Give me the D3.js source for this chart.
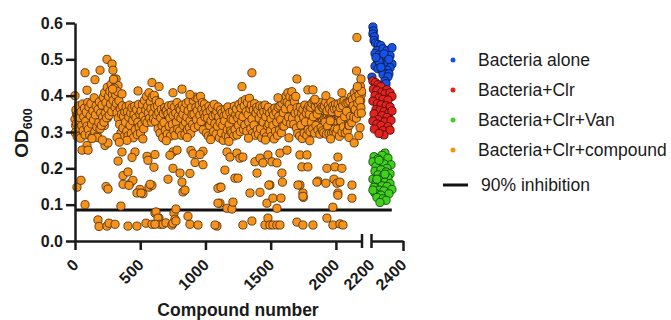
<!DOCTYPE html>
<html>
<head>
<meta charset="utf-8">
<script src="https://cdn.jsdelivr.net/npm/d3@7"></script>
<style>
  body { margin: 0; background: #fff; }
  svg { display: block; font-family: "Liberation Sans", Arial, sans-serif; }
  .axis path, .axis line { stroke: #1a1a1a; stroke-width: 2.5; }
  .axis text { font-weight: bold; font-size: 16px; fill: #1a1a1a; }
</style>
</head>
<body>
<svg id="chart"></svg>
<script>
// OD600 x1000 of compounds 0, 5, 10, ... (bandOD) and 2, 7, 12, ... (bandOD2)
const bandStep = 5;
const bandOD = [
  335,318,352,301,344,327,362,309,338,295,347,322,356,314,331,368,305,341,326,349,
  338,312,359,327,303,346,333,371,318,341,296,355,329,364,311,343,322,376,334,351,
  347,326,372,341,385,318,362,395,351,376,339,408,366,392,357,421,374,398,362,436,
  389,412,371,446,395,362,428,383,347,402,336,371,318,352,329,344,307,361,324,338,
  312,347,329,355,301,336,321,358,314,342,297,333,351,318,364,325,339,309,346,328,
  336,319,352,341,327,363,348,374,339,358,382,346,367,391,354,372,347,386,361,339,
  374,352,395,363,341,382,357,326,369,344,318,351,332,306,345,321,337,298,329,343,
  315,338,326,352,309,341,323,347,336,301,329,356,318,344,331,363,312,339,325,348,
  334,317,346,328,359,312,341,324,353,337,306,345,329,361,318,336,352,323,347,339,
  358,331,366,347,374,339,355,382,344,369,351,336,372,348,327,361,343,318,354,332,
  339,321,348,312,335,357,326,343,304,331,349,318,336,327,352,309,341,324,333,346,
  317,332,305,341,323,296,334,315,346,308,327,339,301,322,344,313,330,298,337,319,
  326,341,311,334,352,319,338,327,347,306,335,356,321,343,331,362,314,349,338,357,
  342,366,331,354,373,339,358,326,347,362,318,339,351,327,344,309,336,322,341,314,
  333,318,347,325,339,304,331,352,316,337,323,345,308,329,341,319,334,297,326,342,
  312,329,304,337,318,296,325,341,309,331,317,346,322,338,313,349,327,356,334,362,
  344,371,352,338,379,361,346,387,368,353,392,374,358,381,349,366,337,372,355,329,
  348,321,339,312,336,327,303,334,319,345,311,328,341,306,333,322,347,315,338,326,
  341,318,353,329,346,362,335,351,324,357,339,368,332,349,316,343,358,327,351,337,
  344,321,338,356,312,341,329,347,318,335,352,309,338,324,346,331,317,343,328,351,
  336,319,348,327,342,311,339,356,324,345,333,361,318,347,338,354,326,362,341,349,
  357,336,364,349,371,342,359,378,351,366,384,357,372,391,365,379,398,372,386,403
];
const bandOD2 = [
  298,361,324,287,349,372,311,339,283,356,318,377,304,342,365,292,329,354,316,381,
  307,369,291,345,378,322,286,358,333,394,301,347,372,314,289,362,326,383,309,352,
  318,374,341,396,327,408,352,381,339,423,364,398,346,412,377,431,356,403,387,445,
  421,368,402,379,353,411,338,386,321,364,297,349,372,311,343,288,356,327,369,302,
  356,289,341,374,318,352,296,367,331,284,348,371,306,339,362,293,327,376,314,349,
  297,358,321,376,344,309,387,332,361,398,326,371,352,408,338,383,364,327,396,351,
  336,401,368,329,386,347,372,309,354,381,297,339,362,318,284,351,326,367,305,357,
  361,294,349,372,316,338,289,356,374,321,346,303,369,291,352,327,381,308,343,366,
  303,361,338,291,374,349,318,365,293,327,379,341,306,358,384,312,331,296,367,348,
  321,387,349,312,396,368,334,359,392,317,374,346,398,329,363,381,306,352,377,341,
  364,297,352,338,289,371,318,359,331,286,367,344,301,376,323,348,294,357,316,369,
  341,284,326,361,298,352,318,277,344,331,362,291,348,306,369,287,321,354,303,336,
  298,357,334,289,371,307,348,363,292,339,318,376,347,301,366,329,384,342,307,372,
  319,389,356,302,381,348,327,393,364,309,374,336,297,361,319,378,291,352,368,306,
  361,294,338,372,309,351,284,369,327,356,298,374,342,287,359,316,368,322,351,303,
  336,288,359,318,347,281,366,302,354,327,291,368,343,306,372,334,298,379,317,353,
  316,387,364,399,329,382,408,341,376,397,323,364,411,338,392,321,384,352,398,311,
  367,296,354,337,289,368,319,351,282,362,341,297,374,328,352,291,364,306,371,349,
  301,368,327,379,309,342,386,297,371,318,383,349,306,374,361,294,381,312,369,303,
  366,298,371,327,382,294,358,316,373,296,364,331,383,297,356,372,301,364,308,377,
  297,364,308,376,353,288,367,331,382,299,372,314,386,342,297,379,357,303,381,318,
  318,384,343,397,326,389,372,341,408,362,396,338,417,379,351,402,386,426,367,412
];

// compounds off the main band: [compound number, OD600]
const outliers = [
  [0,.400],[77,.463],[92,.415],[153,.444],[192,.470],[245,.500],[284,.487],[291,.470],[295,.445],[288,.418],
  [360,.405],[483,.413],[590,.436],[644,.425],[751,.408],[820,.418],[881,.403],[1280,.425],[1356,.463],[1556,.394],
  [1701,.446],[1785,.416],[1824,.416],[1839,.390],[1923,.400],[2046,.408],[2161,.560],[2158,.468],[2192,.446],[2165,.425],
  [92,.263],[169,.285],[230,.263],[253,.270],[322,.285],[360,.245],[398,.277],[460,.245],[552,.233],[613,.238],
  [751,.245],[782,.250],[889,.249],[981,.247],[54,.250],[100,.250],[437,.230],[559,.222],[605,.203],[728,.236],
  [904,.240],[920,.216],[958,.238],[981,.210],[1165,.245],[1188,.231],[1241,.242],[1264,.228],[1287,.231],[1379,.218],
  [1418,.228],[1441,.215],[1479,.237],[1510,.218],[1548,.215],[1571,.242],[1625,.250],[1724,.237],[1739,.204],[1778,.237],
  [1785,.204],[1931,.200],[1992,.204],[2015,.231],[2046,.200],[1149,.195],[1226,.173],[1249,.173],[1111,.148],[1341,.132],
  [1418,.134],[1395,.187],[1586,.187],[1494,.154],[1590,.162],[1724,.154],[1747,.132],[1750,.120],[1862,.165],[1923,.159],
  [1985,.170],[2008,.159],[2031,.162],[2123,.154],[2015,.132],[2123,.118],[1111,.104],[1165,.090],[1203,.088],[1211,.107],
  [1471,.104],[1517,.118],[1579,.118],[1548,.090],[1977,.093],[15,.148],[46,.167],[77,.100],[238,.150],[253,.143],
  [352,.096],[330,.220],[368,.180],[406,.190],[421,.158],[444,.167],[567,.148],[498,.142],[521,.130],[590,.153],
  [613,.077],[644,.063],[713,.170],[751,.200],[759,.077],[774,.088],[805,.187],[820,.162],[828,.135],[843,.140],
  [881,.186],[1096,.104],[1096,.145],[368,.156],[414,.153],[475,.132],[506,.132],[575,.156],[621,.080],[636,.063],
  [766,.060],[866,.068],[1119,.148],[1486,.154],[1709,.154],[1854,.162],[2015,.126],[1747,.123],
  [176,.058],[184,.040],[245,.041],[261,.049],[307,.046],[406,.041],[475,.041],[544,.049],[590,.046],[651,.046],
  [674,.046],[697,.050],[743,.044],[751,.049],[774,.055],[881,.046],[943,.044],[1088,.041],[1073,.044],[1287,.044],
  [1356,.055],[1456,.044],[1479,.063],[1494,.044],[1517,.044],[1548,.044],[1571,.044],[1701,.052],[1747,.044],[1824,.044],
  [1931,.063],[1977,.044],[2031,.047],[2054,.044],[613,.046],
  [130,.282],[210,.278],[340,.272],[520,.281],[700,.276],[860,.285],[1040,.279],[1180,.274],[1330,.283],[1460,.278],
  [1640,.284],[1800,.276],[1960,.281],[2100,.285],[2140,.270],[2175,.290],[2185,.312],[2195,.352]
];

// control wells: [plate position, OD600]
const bacteriaAlone = [
  [2212,.589],[2215,.578],[2212,.570],[2221,.562],[2219,.552],[2228,.545],[2244,.541],[2262,.538],[2237,.524],[2275,.529],
  [2300,.524],[2331,.532],[2225,.516],[2250,.512],[2256,.504],[2287,.508],[2319,.510],[2240,.498],[2287,.496],[2269,.489],
  [2306,.491],[2331,.487],[2225,.481],[2256,.484],[2319,.477],[2244,.474],[2269,.470],[2300,.470],[2287,.462],[2275,.458],
  [2312,.460],[2306,.452],[2287,.440],[2294,.433],[2206,.451],[2250,.495],[2281,.515],[2312,.500],[2231,.505],[2262,.478]
];
const bacteriaClr = [
  [2212,.440],[2228,.436],[2244,.430],[2262,.425],[2215,.418],[2237,.414],[2269,.410],[2300,.416],[2287,.405],[2319,.408],
  [2331,.398],[2225,.400],[2250,.394],[2275,.390],[2306,.388],[2212,.385],[2240,.378],[2262,.375],[2294,.372],[2319,.369],
  [2231,.362],[2256,.360],[2281,.356],[2312,.352],[2331,.358],[2219,.350],[2269,.345],[2300,.340],[2244,.334],[2212,.330],
  [2287,.328],[2325,.332],[2237,.322],[2262,.318],[2306,.315],[2221,.308],[2275,.304],[2319,.305],[2281,.292],[2250,.296]
];
const bacteriaClrVan = [
  [2287,.242],[2269,.236],[2219,.232],[2306,.228],[2244,.226],[2212,.218],[2256,.216],[2325,.210],[2281,.212],[2231,.205],
  [2300,.200],[2225,.192],[2262,.196],[2294,.190],[2319,.185],[2244,.182],[2212,.170],[2275,.178],[2256,.168],[2306,.174],
  [2231,.160],[2287,.162],[2319,.158],[2269,.152],[2219,.148],[2300,.150],[2250,.140],[2281,.138],[2331,.142],[2225,.132],
  [2262,.126],[2312,.130],[2237,.120],[2275,.116],[2294,.112],[2256,.106],[2212,.140],[2250,.222],[2287,.184],[2237,.170]
];

const inhibition90 = 0.085;
const inhibitionEnd = 2330;
const yTicks = [0, 0.1, 0.2, 0.3, 0.4, 0.5, 0.6];
const xTicksMain = [0, 500, 1000, 1500, 2000];
const xTicksBreak = [2200, 2400];

const legendItems = [
  { label: 'Bacteria alone', color: '#1652e6' },
  { label: 'Bacteria+Clr', color: '#e6221e' },
  { label: 'Bacteria+Clr+Van', color: '#3fd11c' },
  { label: 'Bacteria+Clr+compound', color: '#f7931a' }
];

const width = 671, height = 320;
const svg = d3.select('#chart').attr('width', width).attr('height', height);

const y = d3.scaleLinear().domain([0, 0.6]).range([241, 23]);
const x1 = d3.scaleLinear().domain([0, 2200]).range([75, 362]);
const x2 = d3.scaleLinear().domain([2200, 2400]).range([371, 403]);
const xAny = v => v <= 2200 ? x1(v) : x2(v);
const axisY = y(0);

// 90% inhibition line
svg.append('line')
  .attr('x1', x1(0)).attr('x2', x2(inhibitionEnd))
  .attr('y1', y(inhibition90)).attr('y2', y(inhibition90))
  .attr('stroke', '#111').attr('stroke-width', 3);

const compounds = bandOD.map((v, i) => [i * bandStep, v / 1000])
  .concat(bandOD2.map((v, i) => [i * bandStep + 2, v / 1000]))
  .concat(outliers);

function dots(data, color) {
  svg.append('g').selectAll('circle')
    .data(data)
    .join('circle')
    .attr('cx', d => xAny(d[0]))
    .attr('cy', d => y(d[1]))
    .attr('r', 4.1)
    .attr('fill', color)
    .attr('stroke', d3.color(color).darker(3))
    .attr('stroke-width', 0.9);
}

dots(compounds, legendItems[3].color);
dots(bacteriaAlone, legendItems[0].color);
dots(bacteriaClr, legendItems[1].color);
dots(bacteriaClrVan, legendItems[2].color);

// y axis
svg.append('g')
  .attr('class', 'axis')
  .attr('transform', `translate(${x1(0)},0)`)
  .call(d3.axisLeft(y).tickValues(yTicks).tickFormat(d3.format('.1f')).tickSize(9).tickSizeOuter(0).tickPadding(3));

// x axis, two segments with a break
const gx1 = svg.append('g')
  .attr('class', 'axis')
  .attr('transform', `translate(0,${axisY})`)
  .call(d3.axisBottom(x1).tickValues(xTicksMain).tickFormat(d3.format('d')).tickSize(9).tickSizeOuter(0));
const gx2 = svg.append('g')
  .attr('class', 'axis')
  .attr('transform', `translate(0,${axisY})`)
  .call(d3.axisBottom(x2).tickValues(xTicksBreak).tickFormat(d3.format('d')).tickSize(10).tickSizeOuter(0));

gx2.selectAll('.tick').filter(d => d === 2200).select('line')
  .attr('y1', -7).attr('y2', 7);
gx1.append('line')
  .attr('x1', x1(2200)).attr('x2', x1(2200))
  .attr('y1', -7).attr('y2', 7);

[gx1, gx2].forEach(g => {
  g.selectAll('.tick text')
    .attr('x', 0).attr('y', 0).attr('dy', 0)
    .attr('text-anchor', 'end')
    .attr('transform', 'translate(4,25) rotate(-45)');
});

// axis titles
svg.append('text')
  .attr('x', 238).attr('y', 316)
  .attr('text-anchor', 'middle')
  .attr('font-weight', 'bold').attr('font-size', 17.5)
  .attr('fill', '#1a1a1a')
  .text('Compound number');

const yTitle = svg.append('text')
  .attr('transform', 'translate(28,133) rotate(-90)')
  .attr('text-anchor', 'middle')
  .attr('font-weight', 'bold').attr('font-size', 19)
  .attr('fill', '#1a1a1a');
yTitle.append('tspan').text('OD');
yTitle.append('tspan').attr('font-size', 12.5).attr('dy', 4).text('600');

// legend
const legend = svg.append('g');
legendItems.forEach((d, i) => {
  const ly = 60 + i * 30;
  legend.append('circle').attr('cx', 453).attr('cy', ly).attr('r', 2.5).attr('fill', d.color);
  legend.append('text')
    .attr('x', 478).attr('y', ly).attr('dy', '0.35em')
    .attr('font-size', 17.5).attr('fill', '#1a1a1a')
    .text(d.label);
});
legend.append('line')
  .attr('x1', 443).attr('x2', 468).attr('y1', 185).attr('y2', 185)
  .attr('stroke', '#111').attr('stroke-width', 3);
legend.append('text')
  .attr('x', 481).attr('y', 185).attr('dy', '0.35em')
  .attr('font-size', 17.5).attr('fill', '#1a1a1a')
  .text('90% inhibition');
</script>
</body>
</html>
